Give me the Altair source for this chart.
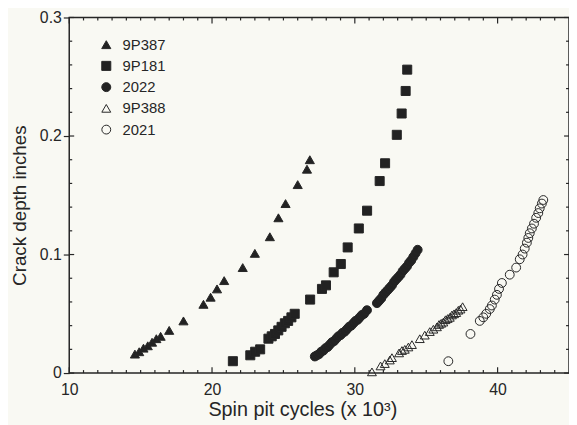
import altair as alt
import pandas as pd

# ---------------- data ----------------
series_names = ["9P387", "9P181", "2022", "9P388", "2021"]
series_shapes = ["triangle-up", "square", "circle", "triangle-up", "circle"]
series_fills = ["#222222", "#222222", "#222222", "transparent", "transparent"]
series_strokes = ["#262626", "#262626", "#262626", "#262626", "#262626"]
series_sizes = [85, 80, 66, 66, 62]

p387_x = [14.6, 14.9, 15.2, 15.5, 15.8, 16.1, 16.4, 17.0, 18.0, 19.4, 19.9, 20.35,
          20.85, 22.15, 23.0, 24.05, 24.65, 25.15, 26.0, 26.65, 26.85]
p387_y = [0.016, 0.018, 0.021, 0.023, 0.026, 0.029, 0.031, 0.036, 0.044, 0.058, 0.064,
          0.071, 0.078, 0.089, 0.101, 0.115, 0.131, 0.143, 0.159, 0.172, 0.180]

p181_x = [21.46, 22.68, 23.02, 23.37, 23.95, 24.18, 24.41, 24.64, 24.87, 25.1, 25.33,
          25.56, 25.79, 26.87, 27.7, 27.98, 28.52, 29.02, 29.5, 30.28, 30.86, 31.74,
          32.12, 32.94, 33.28, 33.56, 33.67]
p181_y = [0.010, 0.015, 0.018, 0.020, 0.029, 0.031, 0.033, 0.036, 0.039, 0.042, 0.044,
          0.047, 0.050, 0.062, 0.071, 0.074, 0.085, 0.092, 0.106, 0.122, 0.137, 0.162,
          0.177, 0.201, 0.219, 0.238, 0.256]

s2022_x = [27.2, 27.35, 27.5, 27.65, 27.8, 27.95, 28.1, 28.25, 28.4, 28.55, 28.7, 28.85,
           29.0, 29.15, 29.3, 29.45, 29.6, 29.75, 29.9, 30.05, 30.2, 30.35, 30.5, 30.65,
           30.85, 31.55, 31.7, 31.85, 32.0, 32.15, 32.3, 32.45, 32.6, 32.75, 32.9, 33.05,
           33.2, 33.35, 33.5, 33.65, 33.8, 33.95, 34.1, 34.25, 34.4]
s2022_y = [0.014, 0.015, 0.016, 0.018, 0.019, 0.021, 0.022, 0.024, 0.026, 0.027, 0.029,
           0.031, 0.032, 0.034, 0.035, 0.037, 0.039, 0.040, 0.042, 0.044, 0.045, 0.047,
           0.049, 0.050, 0.053, 0.059, 0.061, 0.063, 0.066, 0.068, 0.070, 0.072, 0.074,
           0.077, 0.079, 0.081, 0.083, 0.086, 0.088, 0.090, 0.093, 0.095, 0.098, 0.101,
           0.104]

p388_x = [31.2, 31.8, 32.1, 32.45, 32.6, 33.1, 33.3, 33.5, 33.75, 34.0, 34.55, 34.9,
          35.25, 35.5, 35.75, 35.9, 36.05, 36.2, 36.35, 36.5, 36.65, 36.8, 36.95, 37.1,
          37.25, 37.4, 37.55]
p388_y = [0.001, 0.006, 0.008, 0.011, 0.013, 0.017, 0.019, 0.020, 0.022, 0.024, 0.029,
          0.032, 0.035, 0.037, 0.039, 0.041, 0.042, 0.043, 0.045, 0.046, 0.047, 0.049,
          0.050, 0.051, 0.053, 0.054, 0.056]

s2021_x = [36.55, 38.1, 38.75, 39.0, 39.2, 39.45, 39.6, 39.8, 39.95, 40.1, 40.3, 40.85,
           41.3, 41.55, 41.75, 41.9, 42.05, 42.15, 42.25, 42.4, 42.55, 42.7, 42.85, 42.95,
           43.1, 43.2]
s2021_y = [0.010, 0.033, 0.044, 0.047, 0.050, 0.054, 0.057, 0.062, 0.066, 0.071, 0.076,
           0.083, 0.089, 0.096, 0.100, 0.105, 0.110, 0.114, 0.118, 0.122, 0.126, 0.131,
           0.135, 0.139, 0.143, 0.146]

x_major_ticks = [10, 20, 30, 40]
x_minor_ticks = [11, 12, 13, 14, 15, 16, 17, 18, 19, 21, 22, 23, 24, 25, 26, 27, 28, 29,
                 31, 32, 33, 34, 35, 36, 37, 38, 39, 41, 42, 43, 44]
y_major_ticks = [0, 0.1, 0.2, 0.3]
y_minor_ticks = [0.02, 0.04, 0.06, 0.08, 0.12, 0.14, 0.16, 0.18, 0.22, 0.24, 0.26, 0.28]

# ---------------- build tables ----------------
rows = []
for name, xs, ys in [("9P387", p387_x, p387_y), ("9P181", p181_x, p181_y),
                     ("2022", s2022_x, s2022_y), ("9P388", p388_x, p388_y),
                     ("2021", s2021_x, s2021_y)]:
    for xv, yv in zip(xs, ys):
        rows.append({"series": name, "cycles": xv, "depth": yv})
df = pd.DataFrame(rows)

INK = "#262626"
BG = "#f9f9f3"
FONT = "Liberation Sans"
W, H = 506, 360

xscale = alt.Scale(domain=[10, 45], nice=False, zero=False)
yscale = alt.Scale(domain=[0, 0.3], nice=False, zero=False)

x_axis = alt.Axis(values=x_major_ticks, ticks=False, domain=False, grid=False,
                  labelFontSize=16, labelPadding=9, labelFlush=False,
                  title="Spin pit cycles (x 10³)", titleFontSize=20,
                  titleFontWeight="normal", titleX=236, titleY=43,
                  titleAlign="center", titleBaseline="alphabetic")
y_axis = alt.Axis(values=y_major_ticks,
                  labelExpr="datum.value == 0 ? '0' : format(datum.value, '.1f')",
                  ticks=True, tickSize=6, tickColor=INK, tickWidth=1.2, domain=False,
                  grid=False, labelFontSize=16, labelPadding=2, labelFlush=False,
                  title="Crack depth inches", titleFontSize=19,
                  titleFontWeight="normal", titleX=-50, titleY=190,
                  titleAlign="center", titleBaseline="middle")

points = alt.Chart(df).mark_point(opacity=1, strokeWidth=1).encode(
    x=alt.X("cycles:Q", scale=xscale, axis=x_axis),
    y=alt.Y("depth:Q", scale=yscale, axis=y_axis),
    shape=alt.Shape("series:N", scale=alt.Scale(domain=series_names, range=series_shapes),
                    title=""),
    fill=alt.Fill("series:N", scale=alt.Scale(domain=series_names, range=series_fills),
                  title=""),
    stroke=alt.Stroke("series:N", scale=alt.Scale(domain=series_names, range=series_strokes),
                      title=""),
    size=alt.Size("series:N", scale=alt.Scale(domain=series_names, range=series_sizes),
                  title=""),
)

def xticks(vals, y0, y1):
    return alt.Chart(pd.DataFrame({"v": vals})).mark_rule(color=INK, strokeWidth=1.2).encode(
        x=alt.X("v:Q", scale=xscale, axis=x_axis), y=alt.value(y0), y2=alt.value(y1))

def yticks(vals, x0, x1):
    return alt.Chart(pd.DataFrame({"v": vals})).mark_rule(color=INK, strokeWidth=1.2).encode(
        y=alt.Y("v:Q", scale=yscale, axis=y_axis), x=alt.value(x0), x2=alt.value(x1))

layers = [
    points,
    xticks(x_minor_ticks, H, H - 3), xticks(x_major_ticks, H, H - 6),
    xticks(x_minor_ticks, 0, 3), xticks(x_major_ticks, 0, 6),
    yticks(y_minor_ticks, 0, 3), yticks(y_major_ticks, 0, 5),
    yticks(y_minor_ticks, W, W - 3), yticks(y_major_ticks, W, W - 5),
]

chart = alt.layer(*layers).properties(
    width=W, height=H, background=BG,
    autosize=alt.AutoSizeParams(type="none"),
    padding={"left": 62, "top": 7, "right": 0, "bottom": 52},
).configure_view(stroke=INK, strokeWidth=1.5).configure_axis(
    labelFont=FONT, titleFont=FONT, labelColor=INK, titleColor=INK
).configure_legend(
    orient="none", legendX=30, legendY=20, padding=0,
    symbolStrokeWidth=1,
    labelFontSize=15, labelFont=FONT, labelColor=INK, labelOffset=9, rowPadding=5.5
)

chart.save("out.html", embed_options={"renderer": "svg", "actions": False})
